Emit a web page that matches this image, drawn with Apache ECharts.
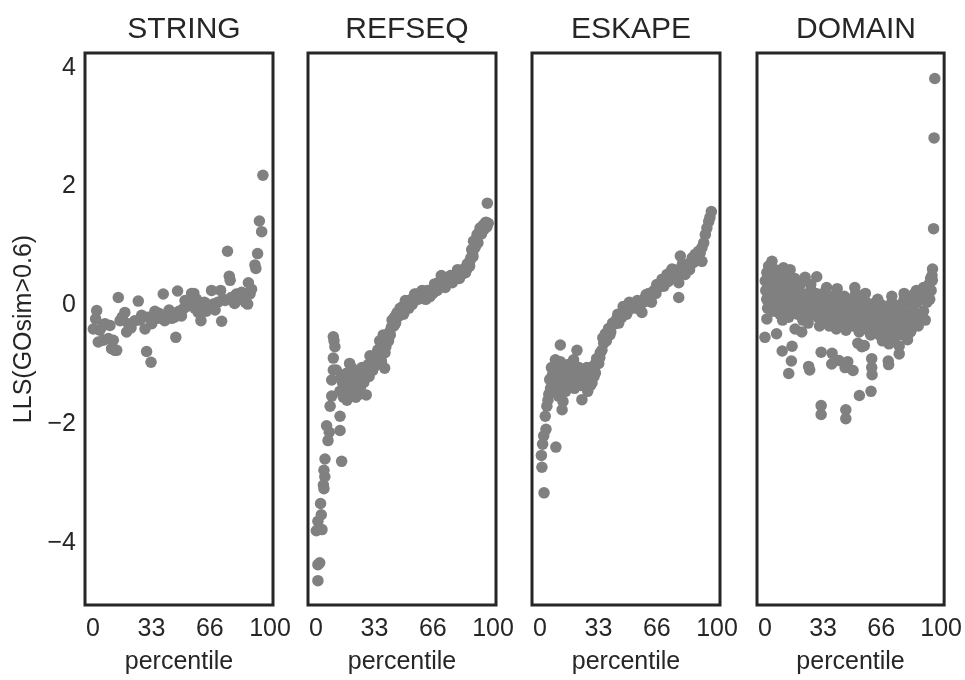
<!DOCTYPE html>
<html>
<head>
<meta charset="utf-8">
<title>LLS by percentile</title>
<script src="https://cdn.jsdelivr.net/npm/echarts@6/dist/echarts.min.js"></script>
<style>
  html, body { margin: 0; background: #fff; }
  #chart { width: 965px; height: 680px; }
</style>
</head>
<body>
<div id="chart"></div>
<script>
// panel names, ticks
const panelNames = ['STRING', 'REFSEQ', 'ESKAPE', 'DOMAIN'];
const xTicks = [0, 33, 66, 100];
const yTicks = [-4, -2, 0, 2, 4];

// [percentile, LLS]
const stringPts = [
  [0.2,-0.40],[1.5,-0.23],[2.1,-0.09],[3.0,-0.62],[3.9,-0.42],[5.5,-0.35],[5.8,-0.59],[6.8,-0.31],
  [8.7,-0.56],[9.6,-0.34],[10.5,-0.73],[11.5,-0.59],[12.4,-0.76],[13.4,-0.76],[14.3,0.13],[15.3,-0.26],
  [16.5,-0.20],[18.0,-0.12],[19.0,-0.45],[20.0,-0.31],[21.5,-0.38],[23.7,-0.26],[25.6,0.07],[26.5,-0.25],
  [27.5,-0.17],[29.4,-0.40],[30.3,-0.78],[31.0,-0.20],[32.8,-0.96],[33.2,-0.31],[35.0,-0.10],[36.5,-0.22],
  [37.5,-0.14],[39.7,0.19],[40.5,-0.26],[42.0,-0.18],[43.0,-0.08],[44.5,-0.22],[46.0,-0.20],[46.8,-0.54],
  [47.8,0.24],[48.5,-0.10],[50.0,-0.18],[51.0,-0.06],[52.0,0.08],[53.0,-0.02],[54.5,0.05],[55.7,0.20],
  [57.0,0.20],[57.5,-0.05],[58.5,0.10],[59.5,-0.12],[61.0,-0.26],[62.0,-0.05],[63.0,0.05],[64.0,-0.10],
  [65.5,0.00],[67.0,0.25],[68.0,0.02],[69.0,-0.08],[70.5,0.05],[72.1,0.25],[72.7,-0.27],[73.5,0.10],
  [74.6,0.08],[76.0,0.91],[77.0,0.49],[77.5,0.42],[78.0,0.13],[79.0,0.08],[80.0,0.03],[81.0,0.19],
  [82.5,0.15],[84.0,0.22],[85.0,0.10],[86.0,0.05],[87.4,0.02],[87.8,0.38],[88.7,0.19],[89.6,0.27],
  [91.5,0.68],[92.0,0.62],[93.0,0.87],[94.0,1.42],[95.3,1.24],[96.0,2.19]
];

const refseqPts = [
  [1.1,-4.64],[1.1,-4.37],[2.1,-4.34],[0.2,-3.80],[1.1,-3.64],[3.0,-3.53],[3.4,-3.78],[2.6,-3.34],
  [4.2,-3.03],[4.5,-3.09],[5.0,-2.89],[4.5,-2.78],[5.1,-2.59],[14.5,-2.63],[6.8,-2.28],[7.5,-2.14],
  [6.0,-2.03],[13.6,-2.11],[13.6,-1.87],[8.0,-1.70],[8.9,-1.53],[8.9,-1.26],[9.8,-1.09],[11.5,-1.09],
  [9.8,-0.89],[10.7,-0.70],[9.8,-0.53],[10.2,-0.60],
  [13.5,-1.45],[14.5,-1.20],[15.0,-1.30],[15.5,-1.55],[16.0,-1.35],[16.5,-1.45],[17.0,-1.15],[17.5,-1.60],
  [18.0,-1.40],[18.5,-1.25],[19.0,-0.98],[19.5,-1.30],[20.0,-1.05],[20.5,-1.50],[21.0,-1.20],[22.0,-1.40],
  [22.5,-1.55],[23.0,-1.10],[23.5,-1.30],[24.5,-1.50],[25.0,-1.40],[25.6,-1.23],[26.0,-1.05],[26.5,-1.20],
  [27.0,-1.30],[28.4,-1.12],[28.4,-1.51],[29.5,-1.00],[30.0,-1.20],[30.5,-0.85],[31.3,-0.98],[32.0,-1.10],
  [32.5,-1.05],[33.2,-0.87],[34.0,-1.00],[34.5,-0.80],[35.0,-0.75],[36.0,-0.76],[36.0,-0.60],[36.5,-0.90],
  [37.0,-0.95],[37.9,-0.67],[38.0,-0.50],[38.8,-1.06],[39.0,-0.80],[39.5,-0.70],[40.0,-0.60],[40.7,-0.53],
  [41.0,-0.60],[41.5,-0.45],[42.0,-0.50],[42.6,-0.37],[43.0,-0.25],[44.0,-0.35],[44.4,-0.20],[45.0,-0.30],
  [45.5,-0.15],[46.0,-0.12],[47.0,-0.18],[47.5,-0.05],[48.2,-0.09],[49.0,-0.02],[49.5,-0.15],[50.0,-0.05],
  [50.5,0.08],[51.0,0.02],[52.0,0.02],[52.5,-0.05],[53.0,0.08],[54.0,0.10],[54.5,0.02],[55.0,0.12],
  [55.7,0.19],[56.9,0.19],[57.5,0.10],[58.0,0.15],[59.5,0.19],[60.0,0.25],[60.5,0.12],[61.5,0.20],
  [62.0,0.10],[62.3,0.13],[63.0,0.25],[63.3,0.13],[64.0,0.22],[64.5,0.15],[65.0,0.25],[66.0,0.20],
  [66.5,0.28],[67.0,0.36],[68.0,0.30],[68.5,0.25],[69.0,0.38],[70.0,0.32],[70.8,0.50],[71.5,0.35],
  [72.0,0.45],[72.5,0.40],[73.0,0.30],[73.8,0.36],[74.6,0.38],[75.5,0.45],[76.0,0.50],[76.5,0.42],
  [77.0,0.38],[77.5,0.48],[78.4,0.50],[79.0,0.45],[79.5,0.52],[80.0,0.60],[80.5,0.55],[81.0,0.45],
  [81.5,0.50],[82.0,0.58],[82.5,0.52],[83.0,0.60],[84.0,0.62],[84.5,0.55],[85.0,0.60],[85.5,0.70],
  [86.0,0.68],[86.8,0.66],[87.0,0.75],[87.5,0.80],[88.0,0.94],[88.5,0.88],[88.7,0.82],[89.0,1.08],
  [89.5,1.00],[90.0,0.98],[90.5,1.12],[91.0,1.19],[91.5,1.05],[92.0,1.22],[92.7,1.30],[93.0,1.30],
  [93.5,1.20],[94.0,1.32],[94.8,1.36],[95.0,1.28],[95.5,1.35],[96.0,1.40],[96.5,1.32],[97.3,1.38],
  [96.8,1.72]
];

const eskapePts = [
  [2.3,-3.16],[1.1,-2.73],[0.8,-2.53],[1.5,-2.34],[2.1,-2.20],[3.4,-2.09],[3.0,-1.87],[3.9,-1.70],
  [9.0,-2.39],[4.5,-1.60],[5.0,-1.50],[6.0,-1.40],[5.5,-1.25],[7.0,-1.30],[6.5,-1.05],[7.0,-1.18],
  [8.7,-0.92],[11.5,-0.67],[11.5,-0.95],[9.0,-1.10],[10.0,-1.25],[11.0,-1.35],[10.5,-1.53],[12.0,-1.48],
  [13.0,-1.62],[12.5,-1.76],[13.0,-1.20],[14.0,-1.10],[15.0,-1.30],[16.0,-1.00],[17.0,-1.20],[18.0,-1.35],
  [19.0,-0.92],[20.9,-0.76],[20.0,-1.10],[21.0,-1.25],[22.0,-1.05],[23.0,-1.35],[23.7,-1.59],[24.5,-1.15],
  [25.0,-1.30],[26.0,-1.20],[27.0,-1.45],[28.0,-1.10],[29.4,-1.31],[29.0,-1.05],[30.5,-1.20],[31.3,-1.14],
  [32.0,-0.90],[33.2,-0.98],[34.0,-0.80],[35.0,-0.76],[36.0,-0.64],[36.9,-0.48],[37.5,-0.60],[38.8,-0.39],
  [40.0,-0.45],[41.0,-0.30],[42.6,-0.31],[43.5,-0.22],[44.5,-0.30],[45.5,-0.15],[46.3,-0.20],[47.3,-0.12],
  [48.5,-0.05],[49.0,-0.15],[50.1,-0.06],[51.0,0.02],[52.0,-0.05],[53.9,0.02],[55.0,0.08],[56.0,-0.02],
  [57.6,-0.12],[58.5,0.05],[59.5,0.13],[60.5,0.10],[61.5,0.20],[62.5,0.12],[63.3,0.19],[64.5,0.25],
  [65.5,0.20],[67.0,0.30],[68.0,0.35],[69.0,0.44],[70.0,0.32],[71.0,0.45],[71.8,0.52],[72.5,0.40],
  [73.5,0.55],[74.6,0.61],[75.5,0.50],[76.5,0.45],[77.5,0.58],[78.4,0.38],[78.4,0.13],[79.3,0.83],
  [80.0,0.55],[81.0,0.60],[82.0,0.52],[83.0,0.65],[84.0,0.69],[85.0,0.72],[86.0,0.80],[86.8,0.72],
  [87.7,0.86],[88.5,0.78],[89.6,0.91],[90.5,0.88],[91.5,0.97],[91.5,0.74],[92.5,1.05],[93.4,1.19],
  [94.3,1.30],[95.3,1.41],[96.0,1.48],[96.8,1.58],
  [8.0,-1.40],[14.5,-1.45],[16.5,-1.25],[19.5,-1.40],[22.5,-1.20],[26.5,-1.05],[28.5,-1.35],[31.0,-1.00],
  [33.8,-0.88],[35.5,-0.55],[39.5,-0.50],[44.0,-0.15],[47.0,-0.02],[50.5,0.05],[54.5,-0.05],[57.0,0.05],
  [60.0,0.18],[63.0,0.05],[66.0,0.35],[70.5,0.40],[73.0,0.45],[76.0,0.60],[80.5,0.70],[84.5,0.60]
];

const domainPts = [
  [96.4,3.82],[96.0,2.82],[95.7,1.29],[95.1,0.61],[94.8,0.50],[95.0,0.42],
  [0.0,-0.54],[6.6,-0.48],[1.1,-0.23],[9.8,-0.77],[15.4,-0.69],[15.0,-0.94],[13.5,-1.15],[17.1,-0.40],
  [20.9,-0.45],[24.8,-1.03],[25.4,-1.09],[31.9,-0.79],[38.1,-0.81],[37.9,-0.99],[42.0,-0.93],[45.5,-1.05],
  [47.0,-0.95],[50.0,-1.10],[52.7,-0.64],[55.0,-0.70],[56.4,-0.68],[60.6,-0.90],[60.6,-1.05],[60.8,-1.17],
  [66.7,-0.60],[70.4,-0.65],[70.0,-0.94],[70.2,-1.00],[76.2,-0.69],[76.2,-0.82],[80.9,-0.58],[82.8,-0.44],
  [53.6,-1.52],[60.2,-1.45],[31.9,-1.69],[31.9,-1.84],[45.9,-1.76],[45.9,-1.91],
  [0.2,0.41],[1.1,0.55],[2.1,0.66],[4.0,0.74],[5.9,0.60],[10.5,0.63],[14.3,0.60],[0.5,0.25],
  [1.0,0.10],[1.5,-0.05],[2.0,0.30],[2.5,0.15],[3.0,0.45],[3.5,0.00],[4.0,0.20],[4.5,0.35],
  [5.0,-0.10],[5.5,0.10],[6.0,0.40],[6.5,0.25],[7.0,0.00],[7.5,0.50],[8.0,0.15],[8.0,0.55],
  [8.5,-0.15],[9.0,0.30],[9.5,0.05],[10.0,-0.25],[11.0,0.20],[11.5,0.40],[12.0,-0.05],[12.0,0.50],
  [12.5,0.10],[13.0,0.30],[13.5,-0.20],[14.0,0.15],[15.0,0.00],[15.5,0.35],[16.0,-0.10],[16.5,0.20],
  [17.0,0.05],[17.0,0.45],[18.0,0.30],[18.5,-0.15],[19.0,0.10],[20.0,-0.05],[20.0,0.35],[21.0,0.20],
  [21.5,-0.25],[22.0,0.05],[22.8,0.47],[23.0,-0.10],[24.0,0.15],[24.5,-0.30],[25.0,0.00],[26.0,0.25],
  [26.0,0.35],[26.5,-0.15],[27.0,0.10],[28.0,-0.05],[29.0,0.20],[29.4,0.48],[30.0,-0.20],[30.5,0.05],
  [31.0,-0.35],[32.0,0.10],[32.5,-0.10],[33.0,0.20],[34.0,-0.25],[34.5,0.00],[35.0,0.12],[35.0,0.30],
  [36.0,-0.15],[36.5,-0.35],[37.0,0.05],[38.0,-0.05],[38.5,0.15],[39.0,-0.25],[40.0,0.00],[40.5,-0.40],
  [41.0,0.10],[41.0,0.28],[42.0,-0.15],[42.5,0.08],[43.0,-0.30],[44.0,-0.05],[45.0,0.15],[45.5,-0.20],
  [46.0,-0.42],[47.0,0.00],[48.0,-0.25],[48.5,0.10],[49.0,-0.10],[50.0,-0.35],[51.0,-0.05],[51.0,0.30],
  [51.5,0.20],[52.0,0.12],[53.0,-0.20],[53.5,-0.45],[54.0,0.00],[55.0,-0.30],[55.5,0.10],[56.0,-0.15],
  [57.0,-0.40],[57.0,0.20],[57.5,0.05],[58.0,-0.25],[59.0,-0.10],[60.0,-0.50],[60.5,0.00],[61.0,-0.30],
  [62.0,-0.15],[62.5,-0.45],[63.0,0.05],[64.0,-0.30],[64.0,0.10],[64.5,-0.10],[65.0,-0.50],[66.0,-0.20],
  [66.5,0.00],[67.0,-0.40],[68.0,-0.25],[68.5,-0.55],[69.0,-0.05],[70.0,-0.35],[70.5,-0.15],[71.0,-0.50],
  [72.0,0.05],[72.0,0.15],[72.5,-0.30],[73.0,-0.60],[74.0,-0.10],[74.5,-0.40],[75.0,-0.20],[76.0,0.00],
  [76.5,-0.50],[77.0,-0.25],[78.0,-0.10],[78.5,-0.40],[79.0,0.10],[79.0,0.20],[80.0,-0.30],[80.5,-0.15],
  [81.0,0.05],[82.0,-0.25],[82.5,-0.45],[83.0,0.15],[84.0,-0.05],[84.5,-0.30],[85.0,0.20],[86.0,-0.15],
  [86.0,0.25],[86.5,0.05],[87.0,-0.35],[88.0,0.10],[88.5,-0.20],[89.0,0.25],[90.0,-0.10],[90.0,0.30],
  [90.5,0.15],[91.0,-0.25],[91.5,0.30],[92.0,0.05],[92.5,0.20],[93.0,0.35],[93.5,0.10],[94.0,0.45],
  [94.3,0.25]
];

const panelData = [stringPts, refseqPts, eskapePts, domainPts];

const panelLefts = [85, 308, 532, 757];
const panelWidth = 188;
const panelTop = 53;
const panelHeight = 558;
const font = 'Liberation Sans, Arial, sans-serif';
const ink = '#262626';

const grids = [], xAxes = [], yAxes = [], series = [], titles = [];
panelNames.forEach((name, i) => {
  grids.push({
    left: panelLefts[i], top: panelTop, width: panelWidth, height: panelHeight,
    show: true, borderColor: ink, borderWidth: 3, backgroundColor: '#fff'
  });
  xAxes.push({
    type: 'value', gridIndex: i, min: -4.5, max: 101.7,
    name: 'percentile', nameLocation: 'middle', nameGap: 45,
    nameTextStyle: { fontFamily: font, fontSize: 25, color: ink },
    axisLine: { show: false }, axisTick: { show: false }, splitLine: { show: false },
    axisLabel: { customValues: xTicks, margin: 12, fontFamily: font, fontSize: 25, color: ink }
  });
  yAxes.push({
    type: 'value', gridIndex: i, min: -5.05, max: 4.25,
    name: i === 0 ? 'LLS(GOsim>0.6)' : '', nameLocation: 'middle', nameRotate: 90, nameGap: 48,
    nameTextStyle: { fontFamily: font, fontSize: 25, color: ink },
    axisLine: { show: false }, axisTick: { show: false }, splitLine: { show: false },
    axisLabel: {
      show: i === 0, customValues: yTicks, margin: 9, fontFamily: font, fontSize: 25, color: ink,
      formatter: v => (v < 0 ? '\u2212' + Math.abs(v) : String(v))
    }
  });
  series.push({
    type: 'scatter', name: name, xAxisIndex: i, yAxisIndex: i,
    symbolSize: 11.5, itemStyle: { color: '#808080', opacity: 1 },
    data: panelData[i]
  });
  titles.push({
    text: name, left: panelLefts[i] + panelWidth / 2, top: 10, textAlign: 'center',
    textStyle: { fontFamily: font, fontSize: 30, fontWeight: 'normal', color: ink }
  });
});

const myChart = echarts.init(document.getElementById('chart'));
myChart.setOption({
  animation: false,
  backgroundColor: '#fff',
  title: titles,
  grid: grids,
  xAxis: xAxes,
  yAxis: yAxes,
  series: series
});
</script>
</body>
</html>
